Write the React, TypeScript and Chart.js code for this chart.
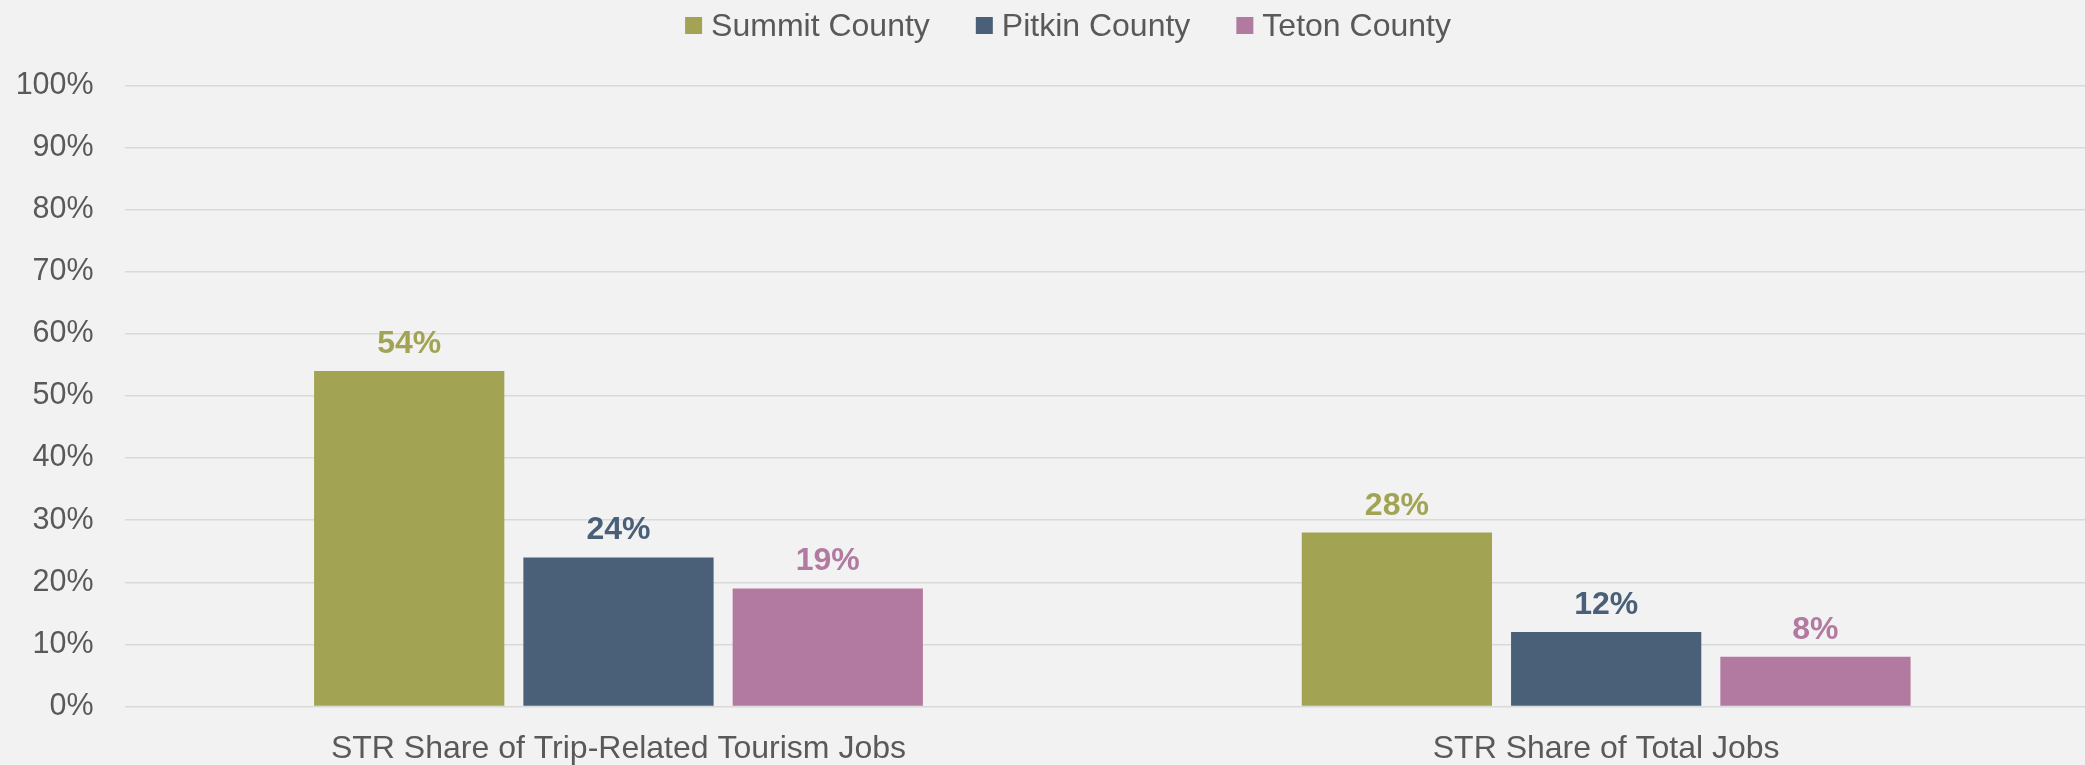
import React, { useEffect, useRef } from 'react';
import { Chart, registerables } from 'chart.js';

Chart.register(...registerables);

const categories = ['STR Share of Trip-Related Tourism Jobs', 'STR Share of Total Jobs'];
const seriesNames = ['Summit County', 'Pitkin County', 'Teton County'];
const summitValues = [54, 28];
const pitkinValues = [24, 12];
const tetonValues = [19, 8];
const seriesColors = ['#A2A453', '#4A6079', '#B37AA1'];
const yMin = 0;
const yMax = 100;
const yStep = 10;

const FONT = "'Liberation Sans', Arial, Helvetica, sans-serif";
const TEXT_COLOR = '#595959';
const BG = '#F2F2F2';
const CANVAS_W = 2100;
const VIEW_W = 2085;
const CANVAS_H = 765;
const LEGEND_CENTER_X = 1068;

const backgroundPlugin = {
  id: 'bgFill',
  beforeDraw(chart: any) {
    const ctx = chart.ctx;
    ctx.save();
    ctx.fillStyle = BG;
    ctx.fillRect(0, 0, chart.width, chart.height);
    ctx.restore();
  },
};

const valueLabelPlugin = {
  id: 'valueLabels',
  afterDatasetsDraw(chart: any) {
    const ctx = chart.ctx;
    ctx.save();
    ctx.font = `bold 32px ${FONT}`;
    ctx.textAlign = 'center';
    ctx.textBaseline = 'alphabetic';
    chart.data.datasets.forEach((ds: any, i: number) => {
      const meta = chart.getDatasetMeta(i);
      ctx.fillStyle = ds.backgroundColor;
      meta.data.forEach((bar: any, j: number) => {
        ctx.fillText(`${ds.data[j]}%`, bar.x, bar.y - 18);
      });
    });
    ctx.restore();
  },
};

const legendPlugin = {
  id: 'customLegend',
  afterDraw(chart: any) {
    const ctx = chart.ctx;
    ctx.save();
    ctx.font = `32px ${FONT}`;
    const box = 17;
    const gap = 9;
    const spacing = 46;
    const items = chart.data.datasets.map((ds: any) => ({
      label: ds.label,
      color: ds.backgroundColor,
      w: box + gap + ctx.measureText(ds.label).width,
    }));
    const total = items.reduce((s: number, it: any) => s + it.w, 0) + spacing * (items.length - 1);
    let x = LEGEND_CENTER_X - total / 2;
    ctx.textAlign = 'left';
    ctx.textBaseline = 'alphabetic';
    items.forEach((it: any) => {
      ctx.fillStyle = it.color;
      ctx.fillRect(x, 17, box, box);
      ctx.fillStyle = TEXT_COLOR;
      ctx.fillText(it.label, x + box + gap, 36);
      x += it.w + spacing;
    });
    ctx.restore();
  },
};

export default function App() {
  const canvasRef = useRef<HTMLCanvasElement | null>(null);

  useEffect(() => {
    document.body.style.margin = '0';
    document.body.style.overflow = 'hidden';
    document.body.style.background = BG;
    const canvas = canvasRef.current;
    if (!canvas) return;
    const chart = new Chart(canvas, {
      type: 'bar',
      data: {
        labels: categories,
        datasets: [
          { label: seriesNames[0], data: summitValues, backgroundColor: seriesColors[0] },
          { label: seriesNames[1], data: pitkinValues, backgroundColor: seriesColors[1] },
          { label: seriesNames[2], data: tetonValues, backgroundColor: seriesColors[2] },
        ].map((d) => ({ ...d, categoryPercentage: 0.6357, barPercentage: 0.909, borderWidth: 0 })),
      },
      options: {
        responsive: false,
        animation: false,
        devicePixelRatio: 1,
        layout: { padding: { top: 85.3, left: 0, right: 0, bottom: 0 } },
        plugins: {
          legend: { display: false },
          tooltip: { enabled: false },
          title: { display: false },
        },
        scales: {
          x: {
            grid: { display: false, drawTicks: false },
            border: { display: false },
            ticks: {
              color: TEXT_COLOR,
              font: { family: FONT, size: 32 },
              padding: 23,
              maxRotation: 0,
              autoSkip: false,
            },
            afterFit: (s: any) => {
              s.height = 58.5;
            },
          },
          y: {
            min: yMin,
            max: yMax,
            grid: { color: '#D9D9D9', lineWidth: 1.5, drawTicks: false },
            border: { display: false },
            ticks: {
              stepSize: yStep,
              color: TEXT_COLOR,
              font: { family: FONT, size: 30.5 },
              padding: 31,
              callback: (v: any) => `${v}%`,
            },
            afterFit: (s: any) => {
              s.width = 124.65;
            },
          },
        },
      },
      plugins: [backgroundPlugin, valueLabelPlugin, legendPlugin],
    });
    return () => chart.destroy();
  }, []);

  return (
    <div
      style={{
        position: 'absolute',
        left: 0,
        top: 0,
        width: VIEW_W,
        height: CANVAS_H,
        overflow: 'hidden',
        background: BG,
      }}
    >
      <canvas
        ref={canvasRef}
        width={CANVAS_W}
        height={CANVAS_H}
        style={{ display: 'block', width: CANVAS_W, height: CANVAS_H }}
      />
    </div>
  );
}
